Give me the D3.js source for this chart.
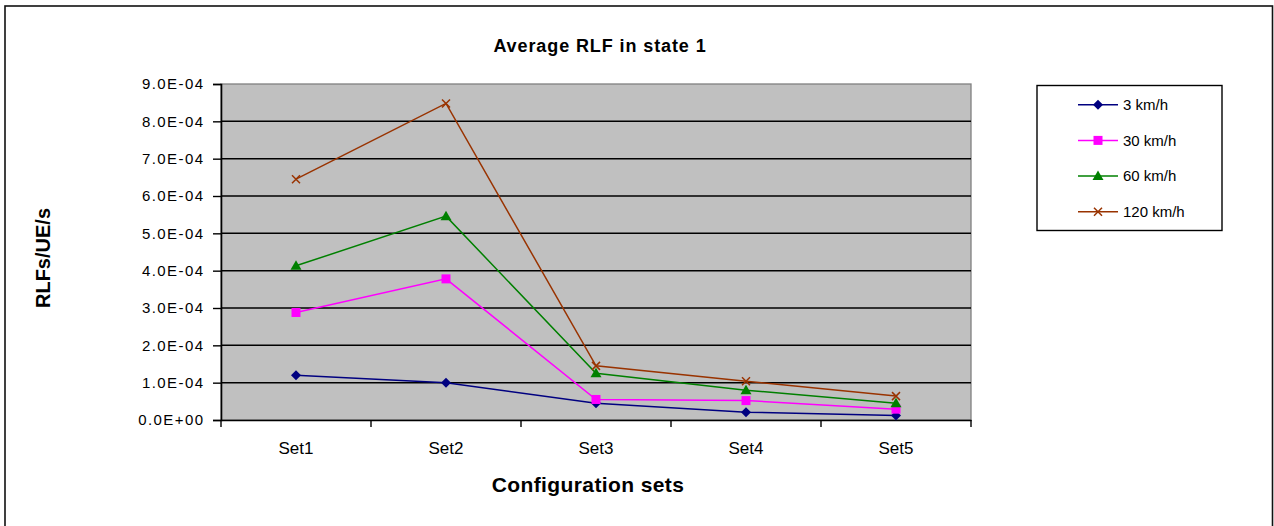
<!DOCTYPE html>
<html>
<head>
<meta charset="utf-8">
<script src="https://cdn.jsdelivr.net/npm/d3@7/dist/d3.min.js"></script>
<style>
  html, body { margin: 0; padding: 0; background: #fff; }
  svg { display: block; font-family: "Liberation Sans", Arial, sans-serif; }
</style>
</head>
<body>
<svg id="chart" width="1274" height="526"></svg>
<script>
// Configuration sets on the x axis
const categories = ["Set1", "Set2", "Set3", "Set4", "Set5"];

// Average RLFs per UE per second, one array per UE speed
const speedLabels = ["3 km/h", "30 km/h", "60 km/h", "120 km/h"];
const rlf3   = [1.20e-4, 1.00e-4, 0.45e-4, 0.21e-4, 0.12e-4];
const rlf30  = [2.88e-4, 3.78e-4, 0.55e-4, 0.52e-4, 0.29e-4];
const rlf60  = [4.13e-4, 5.46e-4, 1.25e-4, 0.80e-4, 0.45e-4];
const rlf120 = [6.45e-4, 8.48e-4, 1.45e-4, 1.04e-4, 0.64e-4];

// Y axis ticks
const yTicks = [0, 1e-4, 2e-4, 3e-4, 4e-4, 5e-4, 6e-4, 7e-4, 8e-4, 9e-4];
const yTickLabels = ["0.0E+00", "1.0E-04", "2.0E-04", "3.0E-04", "4.0E-04",
                     "5.0E-04", "6.0E-04", "7.0E-04", "8.0E-04", "9.0E-04"];

const series = [
  { name: speedLabels[0], values: rlf3,   color: "#000080", symbol: "diamond" },
  { name: speedLabels[1], values: rlf30,  color: "#FF00FF", symbol: "square" },
  { name: speedLabels[2], values: rlf60,  color: "#008000", symbol: "triangle" },
  { name: speedLabels[3], values: rlf120, color: "#993300", symbol: "cross" }
];

const FONT = "'Liberation Sans', Arial, sans-serif";
const svg = d3.select("#chart");
const plot = { left: 221, right: 971, top: 84, bottom: 420 };

const x = d3.scaleBand().domain(categories).range([plot.left, plot.right]);
const y = d3.scaleLinear().domain([0, 9e-4]).range([plot.bottom, plot.top]);

// Outer chart frame
svg.append("rect")
  .attr("x", 5).attr("y", 6).attr("width", 1267.5).attr("height", 600)
  .attr("fill", "none").attr("stroke", "#111").attr("stroke-width", 1.6);

// Plot area background
svg.append("rect")
  .attr("x", plot.left).attr("y", plot.top)
  .attr("width", plot.right - plot.left).attr("height", plot.bottom - plot.top)
  .attr("fill", "#C0C0C0").attr("stroke", "#808080").attr("stroke-width", 1.3);

// Horizontal gridlines
svg.append("g")
  .selectAll("line")
  .data(yTicks.filter(d => d > 0 && d < 9e-4))
  .join("line")
  .attr("x1", plot.left).attr("x2", plot.right)
  .attr("y1", d => y(d)).attr("y2", d => y(d))
  .attr("stroke", "#000").attr("stroke-width", 1.5);

// Y axis
const yAxis = svg.append("g")
  .attr("transform", `translate(${plot.left},0)`)
  .call(d3.axisLeft(y).tickValues(yTicks)
    .tickFormat((d, i) => yTickLabels[i]).tickSize(8).tickPadding(8.6));
yAxis.select(".domain").attr("stroke", "#000").attr("stroke-width", 1.6);
yAxis.selectAll(".tick line").attr("stroke", "#000").attr("stroke-width", 1.4);
yAxis.selectAll(".tick text")
  .style("font-size", "15px").style("font-family", FONT)
  .style("letter-spacing", "1.4px").attr("fill", "#000");

// X axis with ticks at category boundaries
const xAxis = svg.append("g")
  .attr("transform", `translate(0,${plot.bottom})`)
  .call(d3.axisBottom(x).tickSize(0).tickPadding(22));
xAxis.select(".domain").attr("stroke", "#000").attr("stroke-width", 1.6);
xAxis.selectAll(".tick text")
  .style("font-size", "17px").style("font-family", FONT).attr("fill", "#000");
const bounds = categories.map(c => x(c)).concat([x.range()[1]]);
xAxis.selectAll(".bound")
  .data(bounds)
  .join("line")
  .attr("class", "bound")
  .attr("x1", d => d).attr("x2", d => d)
  .attr("y1", 0).attr("y2", 7)
  .attr("stroke", "#000").attr("stroke-width", 1.4);

// Marker drawing helper
function drawMarker(g, symbol, color, cx, cy) {
  if (symbol === "diamond") {
    g.append("path")
      .attr("d", `M${cx},${cy - 5}L${cx + 5},${cy}L${cx},${cy + 5}L${cx - 5},${cy}Z`)
      .attr("fill", color);
  } else if (symbol === "square") {
    g.append("rect")
      .attr("x", cx - 4.5).attr("y", cy - 4.5).attr("width", 9).attr("height", 9)
      .attr("fill", color);
  } else if (symbol === "triangle") {
    g.append("path")
      .attr("d", `M${cx},${cy - 5.5}L${cx + 5.5},${cy + 4}L${cx - 5.5},${cy + 4}Z`)
      .attr("fill", color);
  } else {
    g.append("path")
      .attr("d", `M${cx - 4},${cy - 4}L${cx + 4},${cy + 4}M${cx - 4},${cy + 4}L${cx + 4},${cy - 4}`)
      .attr("stroke", color).attr("stroke-width", 1.5).attr("fill", "none");
  }
}

// Series lines and markers
const line = d3.line()
  .x((d, i) => x(categories[i]) + x.bandwidth() / 2)
  .y(d => y(d));

series.forEach(s => {
  const g = svg.append("g");
  g.append("path")
    .datum(s.values)
    .attr("d", line)
    .attr("fill", "none").attr("stroke", s.color).attr("stroke-width", 1.5);
  s.values.forEach((v, i) => {
    drawMarker(g, s.symbol, s.color, x(categories[i]) + x.bandwidth() / 2, y(v));
  });
});

// Chart title
svg.append("text")
  .attr("x", 600).attr("y", 52)
  .attr("text-anchor", "middle")
  .style("font-size", "18px").attr("font-weight", "bold")
  .attr("letter-spacing", 0.9)
  .text("Average RLF in state 1");

// X axis title
svg.append("text")
  .attr("x", 588).attr("y", 492)
  .attr("text-anchor", "middle")
  .style("font-size", "21px").attr("font-weight", "bold")
  .attr("letter-spacing", 0.4)
  .text("Configuration sets");

// Y axis title
svg.append("text")
  .attr("transform", "translate(50,258) rotate(-90)")
  .attr("text-anchor", "middle")
  .style("font-size", "20px").attr("font-weight", "bold")
  .text("RLFs/UE/s");

// Legend
const legend = svg.append("g");
legend.append("rect")
  .attr("x", 1037).attr("y", 85.5).attr("width", 185).attr("height", 145)
  .attr("fill", "#fff").attr("stroke", "#000").attr("stroke-width", 1.4);
series.forEach((s, i) => {
  const ly = 104.7 + i * 35.7;
  legend.append("line")
    .attr("x1", 1078).attr("x2", 1118).attr("y1", ly).attr("y2", ly)
    .attr("stroke", s.color).attr("stroke-width", 1.5);
  drawMarker(legend, s.symbol, s.color, 1098, ly);
  legend.append("text")
    .attr("x", 1123).attr("y", ly).attr("dy", "0.35em")
    .style("font-size", "15px")
    .text(s.name);
});
</script>
</body>
</html>
